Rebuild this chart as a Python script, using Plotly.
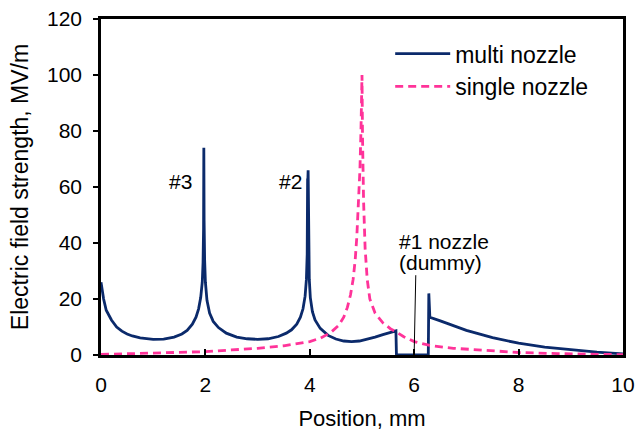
import plotly.graph_objects as go

# Multi nozzle field (MV/m) vs position (mm)
pos_multi = [0.0, 0.05, 0.1, 0.2, 0.3, 0.4, 0.5, 0.6, 0.75, 0.9, 1.0, 1.2, 1.4, 1.55, 1.65, 1.75,
             1.82, 1.87, 1.91, 1.94, 1.955, 1.965, 1.97, 1.975, 1.985, 2.0, 2.03, 2.08, 2.15, 2.25,
             2.4, 2.6, 2.8, 3.0, 3.2, 3.4, 3.55, 3.65, 3.75, 3.82, 3.87, 3.91, 3.935, 3.95, 3.958,
             3.962, 3.968, 3.972, 3.98, 3.99, 4.01, 4.05, 4.1, 4.2, 4.35, 4.5, 4.65, 4.8, 4.95,
             5.1, 5.25, 5.4, 5.55, 5.65, 5.66, 6.27, 6.28, 6.3, 6.5, 6.75, 7.0, 7.5, 8.0, 8.5,
             9.0, 9.5, 10.0]
e_multi = [26.0, 20.0, 16.0, 12.5, 10.0, 8.5, 7.5, 6.8, 6.1, 5.7, 5.6, 5.7, 6.4, 7.5, 8.8, 11.0,
           13.5, 16.5, 20.5, 26.0, 33.0, 45.0, 74.0, 48.0, 34.0, 26.0, 19.5, 15.0, 12.0, 9.8,
           7.8, 6.4, 5.8, 5.6, 5.8, 6.6, 7.8, 9.0, 11.0, 13.5, 16.5, 21.0, 27.0, 36.0, 63.0,
           62.0, 66.0, 48.0, 34.0, 27.0, 20.5, 15.5, 12.5, 9.5, 7.0, 5.7, 5.0, 4.8, 5.0,
           5.6, 6.4, 7.3, 8.1, 8.6, 0.0, 0.0, 22.0, 13.5, 12.2, 10.5, 8.8, 6.2, 4.2, 2.8,
           1.8, 1.0, 0.4]

# Single nozzle field (MV/m) vs position (mm)
pos_single = [0.0, 0.5, 1.0, 1.5, 2.0, 2.5, 3.0, 3.5, 4.0, 4.2, 4.4, 4.55, 4.65, 4.72, 4.78,
              4.83, 4.87, 4.9, 4.93, 4.96, 4.98, 4.995, 5.0, 5.01, 5.03, 5.06, 5.1, 5.15,
              5.25, 5.4, 5.55, 5.65, 5.8, 6.0, 6.3, 6.75, 7.25, 8.0, 8.75, 9.5, 10.0]
e_single = [0.2, 0.4, 0.6, 0.9, 1.2, 1.8, 2.4, 3.3, 4.8, 6.0, 8.0, 10.5, 13.5, 17.0, 21.5,
            27.0, 34.0, 42.0, 52.0, 66.0, 80.0, 95.0, 100.0, 78.0, 55.0, 38.0, 27.0, 20.0,
            15.0, 11.5, 9.3, 8.3, 6.5, 4.8, 3.4, 2.4, 1.7, 0.9, 0.5, 0.2, 0.1]

NAVY = "#0b2a6b"
PINK = "#ff3399"
FONT = "Liberation Sans, Arial, sans-serif"

fig = go.Figure()
fig.add_trace(go.Scatter(x=pos_multi, y=e_multi, mode="lines", name="multi nozzle",
                         line=dict(color=NAVY, width=2.8)))
fig.add_trace(go.Scatter(x=pos_single, y=e_single, mode="lines", name="single nozzle",
                         line=dict(color=PINK, width=2.8, dash="8px,5px")))

ann_font = dict(size=21, color="black")
fig.add_annotation(x=1.52, y=62, text="#3", showarrow=False, font=ann_font, xref="x", yref="y")
fig.add_annotation(x=3.63, y=62, text="#2", showarrow=False, font=ann_font, xref="x", yref="y")
fig.add_annotation(x=5.67, y=40.4, text="#1 nozzle", showarrow=False, xanchor="left",
                   font=ann_font, xref="x", yref="y")
fig.add_annotation(x=5.67, y=32.9, text="(dummy)", showarrow=False, xanchor="left",
                   font=ann_font, xref="x", yref="y")
fig.add_shape(type="line", x0=6.0, y0=1.0, x1=6.03, y1=28.5, xref="x", yref="y",
              line=dict(color="black", width=1))

fig.update_layout(
    width=637, height=431,
    margin=dict(l=101, r=14, t=19, b=76, autoexpand=False),
    paper_bgcolor="white", plot_bgcolor="white",
    font=dict(family=FONT, size=21, color="black"),
    showlegend=True,
    legend=dict(x=0.554, y=0.961, xanchor="left", yanchor="top", bgcolor="rgba(0,0,0,0)",
                font=dict(size=23), itemwidth=55, tracegroupgap=0),
    xaxis=dict(range=[0, 10], tickvals=[0, 2, 4, 6, 8, 10], ticks="inside", ticklen=6,
               tickwidth=1.5, tickcolor="black", showline=True, linecolor="black", linewidth=2.5,
               mirror=True, showgrid=False, zeroline=False, automargin=False,
               ticklabelstandoff=9,
               title=dict(text="Position, mm", font=dict(size=22), standoff=16),
               tickfont=dict(size=21)),
    yaxis=dict(range=[0, 120], tickvals=[0, 20, 40, 60, 80, 100, 120], ticks="outside", ticklen=5,
               tickwidth=1.5, tickcolor="black", showline=True, linecolor="black", linewidth=2.5,
               mirror=True, showgrid=False, zeroline=False, automargin=False,
               ticklabelstandoff=7,
               title=dict(text="Electric field strength, MV/m", font=dict(size=23), standoff=12),
               tickfont=dict(size=21)),
)

fig.write_html("out.html", post_script="document.body.style.margin='0';",
               config={"displayModeBar": False})
